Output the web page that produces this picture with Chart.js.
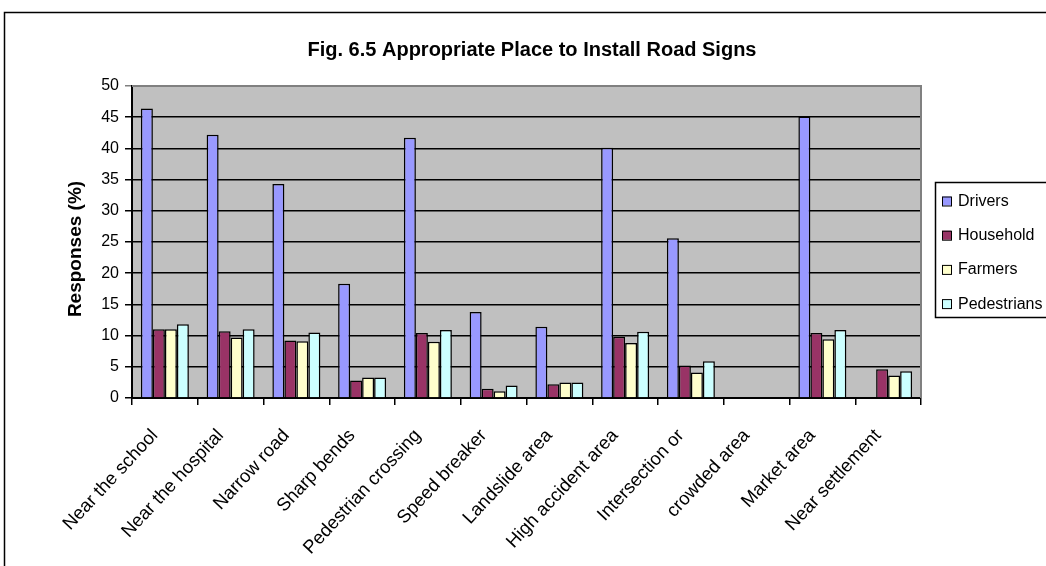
<!DOCTYPE html>
<html>
<head>
<meta charset="utf-8">
<script src="https://cdn.jsdelivr.net/npm/chart.js@4.4.1/dist/chart.umd.min.js"></script>
<style>
  html, body { margin: 0; padding: 0; background: #fff; overflow: hidden; }
  #wrap { position: relative; width: 1046px; height: 566px; }
</style>
</head>
<body>
<div id="wrap"><canvas id="c" width="1046" height="566"></canvas></div>
<script>
// Survey responses (%) by place where road signs should be installed
const chartTitle = 'Fig. 6.5 Appropriate Place to Install Road Signs';
const yAxisTitle = 'Responses (%)';

const categories = [
  'Near the school', 'Near the hospital', 'Narrow road', 'Sharp bends',
  'Pedestrian crossing', 'Speed breaker', 'Landslide area', 'High accident area',
  'Intersection or', 'crowded area', 'Market area', 'Near settlement'
];

const seriesNames = ['Drivers', 'Household', 'Farmers', 'Pedestrians'];

const drivers     = [46.4, 42.2, 34.3, 18.3, 41.7, 13.8, 11.4, 40.1, 25.6, null, 45.1, null];
const household   = [11.0, 10.7,  9.2,  2.8, 10.4,  1.5,  2.2,  9.8,  5.2, null, 10.4,  4.6];
const farmers     = [11.0,  9.7,  9.1,  3.3,  9.0,  1.1,  2.5,  8.8,  4.1, null,  9.4,  3.6];
const pedestrians = [11.8, 11.0, 10.5,  3.3, 10.9,  2.0,  2.5, 10.6,  5.9, null, 10.9,  4.3];

const yMin = 0, yMax = 50, yStep = 5;

const seriesColors = ['#9999FF', '#993366', '#FFFFCC', '#CCFFFF'];
const FONT = '"Liberation Sans", Arial, sans-serif';

const seriesValues = [drivers, household, farmers, pedestrians];
const datasets = seriesNames.map((name, i) => ({
  label: name,
  data: seriesValues[i],
  backgroundColor: seriesColors[i],
  borderColor: '#000',
  borderWidth: 1.5,
  categoryPercentage: 0.73,
  barPercentage: 1.0
}));

// Plot background, plot border, titles, legend box and outer frame
const decor = {
  id: 'decor',
  beforeDraw(chart) {
    const { ctx, chartArea: a } = chart;
    ctx.save();
    ctx.fillStyle = '#fff';
    ctx.fillRect(0, 0, chart.width, chart.height);
    ctx.fillStyle = '#C0C0C0';
    ctx.fillRect(a.left, a.top, a.right - a.left, a.bottom - a.top);
    ctx.restore();
  },
  afterDraw(chart) {
    const { ctx, chartArea: a } = chart;
    ctx.save();
    // plot border (top and right)
    ctx.strokeStyle = '#808080';
    ctx.lineWidth = 2;
    ctx.beginPath();
    ctx.moveTo(a.left, a.top);
    ctx.lineTo(a.right, a.top);
    ctx.lineTo(a.right, a.bottom);
    ctx.stroke();

    // chart title
    ctx.fillStyle = '#000';
    ctx.font = 'bold 20px ' + FONT;
    ctx.textAlign = 'center';
    ctx.textBaseline = 'middle';
    ctx.fillText(chartTitle, 532, 50);

    // value axis title
    ctx.save();
    ctx.translate(76, 249);
    ctx.rotate(-Math.PI / 2);
    ctx.font = 'bold 19px ' + FONT;
    ctx.fillText(yAxisTitle, 0, 0);
    ctx.restore();

    // legend
    const lx = a.right + 14, ly = 182, lh = 135;
    ctx.fillStyle = '#fff';
    ctx.fillRect(lx, ly, 200, lh);
    ctx.strokeStyle = '#000';
    ctx.lineWidth = 1.5;
    ctx.strokeRect(lx + 0.5, ly + 0.5, 200, lh);
    ctx.font = '16px ' + FONT;
    ctx.textAlign = 'left';
    chart.data.datasets.forEach((ds, i) => {
      const cy = ly + 19.5 + i * 34.2;
      ctx.fillStyle = ds.backgroundColor;
      ctx.fillRect(lx + 7, cy - 5, 9, 9);
      ctx.strokeStyle = '#000';
      ctx.lineWidth = 1;
      ctx.strokeRect(lx + 7.5, cy - 4.5, 9, 9);
      ctx.fillStyle = '#000';
      ctx.fillText(ds.label, lx + 23, cy);
    });

    // outer frame
    ctx.strokeStyle = '#000';
    ctx.lineWidth = 1.5;
    ctx.strokeRect(4.5, 12.5, 1200, 800);
    ctx.restore();
  }
};

new Chart(document.getElementById('c'), {
  type: 'bar',
  data: { labels: categories, datasets },
  options: {
    responsive: false,
    animation: false,
    devicePixelRatio: 1,
    layout: { padding: { left: 0, right: 125, top: 86, bottom: 0 } },
    plugins: {
      legend: { display: false },
      title: { display: false },
      tooltip: { enabled: false }
    },
    scales: {
      x: {
        afterFit(s) { s.height = 168; },
        grid: {
          display: true,
          offset: true,
          drawOnChartArea: false,
          drawTicks: true,
          tickLength: 7,
          color: '#000',
          lineWidth: 1.5
        },
        border: { display: true, color: '#000', width: 2 },
        ticks: {
          autoSkip: false,
          minRotation: 47,
          maxRotation: 47,
          padding: 20,
          labelOffset: -10,
          color: '#000',
          font: { family: FONT, size: 18.5 }
        }
      },
      y: {
        min: yMin,
        max: yMax,
        afterFit(s) { s.width = 132; },
        grid: {
          color: (c) => (c.tick && c.tick.value === yMax ? '#808080' : '#000'),
          lineWidth: 1.5,
          drawTicks: true,
          tickLength: 7
        },
        border: { display: true, color: '#000', width: 2 },
        ticks: {
          stepSize: yStep,
          padding: 6,
          color: '#000',
          font: { family: FONT, size: 16 }
        },
        title: { display: false }
      }
    }
  },
  plugins: [decor]
});
</script>
</body>
</html>
